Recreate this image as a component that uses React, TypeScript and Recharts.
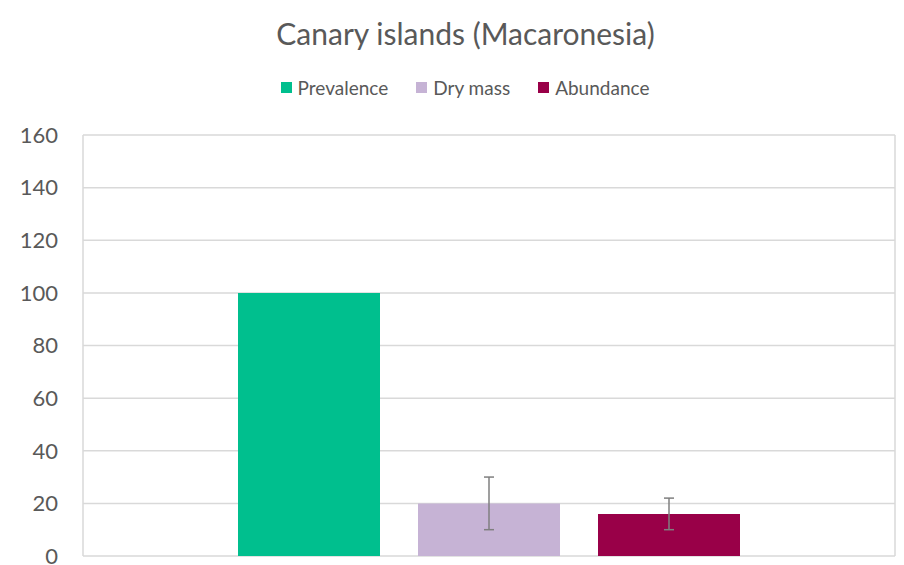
import React from "react";
import { BarChart, Bar, XAxis, YAxis, CartesianGrid, ErrorBar, Legend } from "recharts";

const categories = ["Canary islands (Macaronesia)"];
const prevalence = [100];
const dryMass = [20];
const dryMassErr = [10];
const abundance = [16];
const abundanceErr = [6];
const yTicks = [0, 20, 40, 60, 80, 100, 120, 140, 160];

const seriesInfo = [
  { key: "prevalence", name: "Prevalence", color: "#00bf8e" },
  { key: "dryMass", name: "Dry mass", color: "#c6b3d5" },
  { key: "abundance", name: "Abundance", color: "#990048" },
];

const data = categories.map((c, i) => ({
  name: c,
  prevalence: prevalence[i],
  dryMass: dryMass[i],
  dryMassErr: dryMassErr[i],
  abundance: abundance[i],
  abundanceErr: abundanceErr[i],
}));

const FONT = "Lato, 'Open Sans', sans-serif";

const LegendContent = () => (
  <div
    style={{
      height: 40,
      width: 930,
      display: "flex",
      alignItems: "center",
      justifyContent: "center",
      fontFamily: FONT,
      fontSize: 19,
      color: "#595959",
    }}
  >
    {seriesInfo.map((s, i) => (
      <div key={s.key} style={{ display: "flex", alignItems: "center", marginLeft: i === 0 ? 0 : 28 }}>
        <span style={{ width: 11, height: 11, background: s.color, display: "inline-block", marginRight: 6 }} />
        <span>{s.name}</span>
      </div>
    ))}
  </div>
);

export default function App() {
  return (
    <div style={{ position: "absolute", left: 0, top: 0, width: 904, height: 565, background: "#fff" }}>
      <div
        style={{
          position: "absolute",
          left: 0,
          width: 931,
          top: 13,
          textAlign: "center",
          fontFamily: FONT,
          fontSize: 30,
          color: "#595959",
          lineHeight: "40px",
        }}
      >
        {categories[0]}
      </div>
      <BarChart
        width={904}
        height={565}
        data={data}
        margin={{ top: 95, right: 9, bottom: 9, left: 0 }}
        barSize={142}
        barGap={38}
      >
        <CartesianGrid
          stroke="#d9d9d9"
          strokeWidth={1.5}
          verticalCoordinatesGenerator={({ offset }: any) => [offset.left, offset.left + offset.width]}
        />
        <XAxis dataKey="name" hide />
        <YAxis
          domain={[0, 160]}
          ticks={yTicks}
          interval={0}
          width={83}
          tickSize={0}
          tickMargin={25}
          axisLine={false}
          tickLine={false}
          tick={{ fill: "#595959", fontSize: 22, fontFamily: FONT }}
        />
        <Legend
          verticalAlign="top"
          content={<LegendContent />}
          wrapperStyle={{ top: 67, left: 0, width: 930 }}
        />
        {seriesInfo.map((s) => (
          <Bar key={s.key} dataKey={s.key} name={s.name} fill={s.color} isAnimationActive={false}>
            {s.key === "dryMass" && (
              <ErrorBar dataKey="dryMassErr" stroke="#7f7f7f" strokeWidth={1.5} width={5} />
            )}
            {s.key === "abundance" && (
              <ErrorBar dataKey="abundanceErr" stroke="#7f7f7f" strokeWidth={1.5} width={5} />
            )}
          </Bar>
        ))}
      </BarChart>
    </div>
  );
}
